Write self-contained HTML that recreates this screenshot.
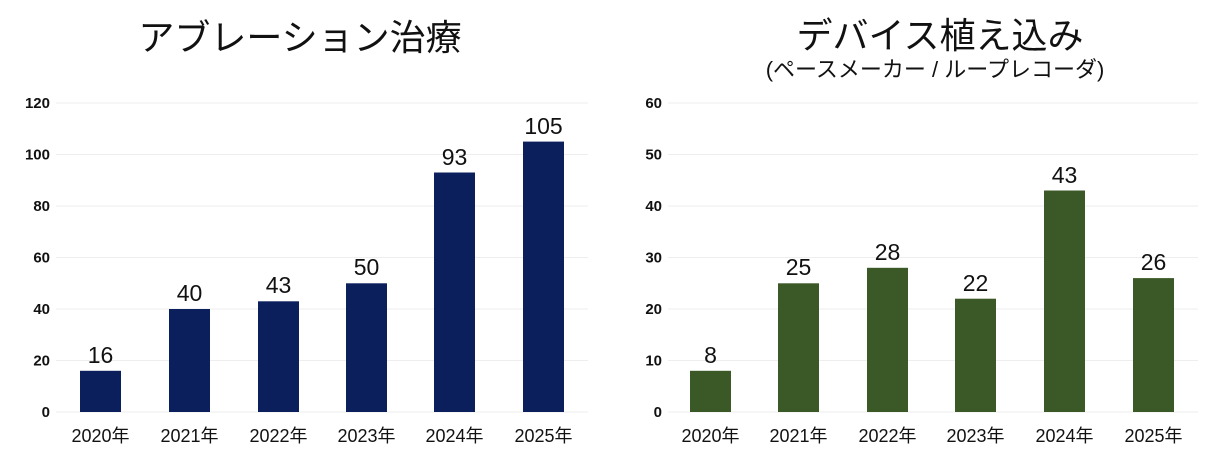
<!DOCTYPE html>
<html><head><meta charset="utf-8"><style>
body{margin:0;background:#fff}
text{font-family:"Liberation Sans","Noto Sans CJK JP",sans-serif}
</style></head><body>
<svg width="1223" height="453" viewBox="0 0 1223 453" xmlns="http://www.w3.org/2000/svg">
<rect width="1223" height="453" fill="#fff"/>
<text x="300" y="50" font-size="36" text-anchor="middle" fill="#111">アブレーション治療</text>
<text x="940" y="48" font-size="36" text-anchor="middle" fill="#111">デバイス植え込み</text>
<text x="935" y="77" font-size="22" text-anchor="middle" fill="#111">(ペースメーカー / ループレコーダ)</text>
<g stroke="#eeeeee" stroke-width="1">
<line x1="56" x2="588" y1="103" y2="103"/><line x1="56" x2="588" y1="154.5" y2="154.5"/><line x1="56" x2="588" y1="206" y2="206"/><line x1="56" x2="588" y1="257.5" y2="257.5"/><line x1="56" x2="588" y1="309" y2="309"/><line x1="56" x2="588" y1="360.5" y2="360.5"/><line x1="56" x2="588" y1="412" y2="412"/>
<line x1="668" x2="1198" y1="103" y2="103"/><line x1="668" x2="1198" y1="154.5" y2="154.5"/><line x1="668" x2="1198" y1="206" y2="206"/><line x1="668" x2="1198" y1="257.5" y2="257.5"/><line x1="668" x2="1198" y1="309" y2="309"/><line x1="668" x2="1198" y1="360.5" y2="360.5"/><line x1="668" x2="1198" y1="412" y2="412"/>
</g>
<g font-size="15" font-weight="bold" text-anchor="end" fill="#111">
<text x="50" y="108">120</text><text x="50" y="159.5">100</text><text x="50" y="211">80</text><text x="50" y="262.5">60</text><text x="50" y="314">40</text><text x="50" y="365.5">20</text><text x="50" y="417">0</text>
<text x="662" y="108">60</text><text x="662" y="159.5">50</text><text x="662" y="211">40</text><text x="662" y="262.5">30</text><text x="662" y="314">20</text><text x="662" y="365.5">10</text><text x="662" y="417">0</text>
</g>
<g fill="#0b1f5c">
<rect x="80" y="370.8" width="41" height="41.2"/>
<rect x="169" y="309" width="41" height="103"/>
<rect x="258" y="301.3" width="41" height="110.7"/>
<rect x="346" y="283.3" width="41" height="128.7"/>
<rect x="434" y="172.5" width="41" height="239.5"/>
<rect x="523" y="141.6" width="41" height="270.4"/>
</g>
<g fill="#3b5926">
<rect x="690" y="370.8" width="41" height="41.2"/>
<rect x="778" y="283.3" width="41" height="128.7"/>
<rect x="867" y="267.8" width="41" height="144.2"/>
<rect x="955" y="298.7" width="41" height="113.3"/>
<rect x="1044" y="190.5" width="41" height="221.5"/>
<rect x="1133" y="278.1" width="41" height="133.9"/>
</g>
<g font-size="23" text-anchor="middle" fill="#111">
<text x="100.5" y="363">16</text><text x="189.5" y="301">40</text><text x="278.5" y="293">43</text><text x="366.5" y="275">50</text><text x="454.5" y="165">93</text><text x="543.5" y="134">105</text>
<text x="710.5" y="363">8</text><text x="798.5" y="275">25</text><text x="887.5" y="260">28</text><text x="975.5" y="291">22</text><text x="1064.5" y="183">43</text><text x="1153.5" y="270">26</text>
</g>
<g font-size="18" text-anchor="middle" fill="#111">
<text x="100.5" y="442">2020年</text><text x="189.5" y="442">2021年</text><text x="278.5" y="442">2022年</text><text x="366.5" y="442">2023年</text><text x="454.5" y="442">2024年</text><text x="543.5" y="442">2025年</text>
<text x="710.5" y="442">2020年</text><text x="798.5" y="442">2021年</text><text x="887.5" y="442">2022年</text><text x="975.5" y="442">2023年</text><text x="1064.5" y="442">2024年</text><text x="1153.5" y="442">2025年</text>
</g>
</svg>
</body></html>
